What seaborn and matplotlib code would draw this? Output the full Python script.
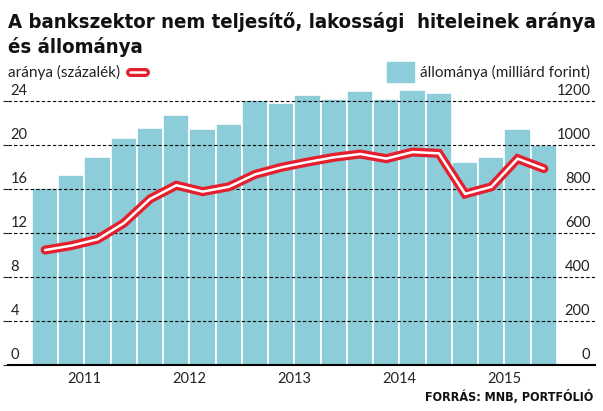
import numpy as np
import pandas as pd
import seaborn as sns
import matplotlib.pyplot as plt
import matplotlib.transforms as mtransforms
from matplotlib import font_manager

# quarterly data 2011 Q1 - 2015 Q4
quarters = [f"{y} Q{q}" for y in range(2011, 2016) for q in range(1, 5)]
allomany = [806, 864, 945, 1032, 1077, 1138, 1073, 1097, 1203, 1189,
            1225, 1210, 1247, 1210, 1251, 1238, 924, 947, 1074, 1000]
aranya = [10.45, 10.85, 11.43, 12.9, 15.1, 16.34, 15.76, 16.2, 17.33, 17.97,
          18.45, 18.88, 19.18, 18.76, 19.36, 19.24, 15.55, 16.2, 18.76, 17.85]
years = ["2011", "2012", "2013", "2014", "2015"]
left_ticks = [0, 4, 8, 12, 16, 20, 24]
right_ticks = [0, 200, 400, 600, 800, 1000, 1200]

BAR = "#8ccdd9"
RED = "#e5202e"

# look for a condensed bold face for the headline
cond = None
for f in font_manager.fontManager.ttflist:
    nm = (f.name + " " + str(f.stretch)).lower()
    if ("condensed" in nm or "narrow" in nm) and f.weight in ("bold", 700, "heavy", 800):
        cond = font_manager.FontProperties(fname=f.fname)
        break
if cond is None:
    cond = font_manager.FontProperties(family="Roboto", weight="bold")

names = {f.name for f in font_manager.fontManager.ttflist}
body = "Lato" if "Lato" in names else "DejaVu Sans"

sns.set_style("white")
plt.rcParams["font.family"] = [body, "DejaVu Sans"]

df = pd.DataFrame({"quarter": quarters, "allomany": allomany, "aranya": aranya})

fig = plt.figure(figsize=(6.03, 4.11), dpi=100)
ax = fig.add_axes([8 / 603, 46 / 411, 587 / 603, 286 / 411])

sns.barplot(data=df, x="quarter", y="allomany", color=BAR, width=1.0,
            edgecolor="white", linewidth=1.2, saturation=1, ax=ax)
ax.set_xlim(-1.414, 20.948)
ax.set_ylim(0, 1300)
ax.set_yticks(right_ticks)
ax.yaxis.grid(True, linestyle=(0, (3, 2)), color="black", linewidth=0.8)
ax.set_axisbelow(False)
ax.set_yticklabels([])
ax.set_xticks([])
ax.set_xlabel("")
ax.set_ylabel("")
ax.tick_params(left=False, right=False, bottom=False)
for s in ["top", "left", "right"]:
    ax.spines[s].set_visible(False)
ax.spines["bottom"].set_color("black")
ax.spines["bottom"].set_linewidth(1.5)
ax.spines["bottom"].set_zorder(5)

ax2 = ax.twinx()
ax2.set_ylim(0, 26)
x = np.arange(len(df))
sns.lineplot(x=x, y=df["aranya"], color=RED, linewidth=6.5, ax=ax2,
             solid_capstyle="round", solid_joinstyle="miter")
sns.lineplot(x=x, y=df["aranya"], color="white", linewidth=1.8, ax=ax2,
             solid_joinstyle="miter")
ax2.set_yticks([])
ax2.set_xlabel("")
ax2.set_ylabel("")
for s in ax2.spines.values():
    s.set_visible(False)

# axis labels sitting above the dashed lines
trl = mtransforms.blended_transform_factory(ax2.transAxes, ax2.transData)
for t in left_ticks:
    ax2.text(0.004, t + 0.25, str(t), transform=trl, ha="left", va="bottom",
             fontsize=10.5, color="#222222")
trr = mtransforms.blended_transform_factory(ax.transAxes, ax.transData)
for t in right_ticks:
    ax.text(0.992, t + 12, str(t), transform=trr, ha="right", va="bottom",
            fontsize=10.5, color="#222222")

trx = mtransforms.blended_transform_factory(ax.transData, ax.transAxes)
for i, y in enumerate(years):
    ax.text(i * 4 + 1.5, -0.025, y, transform=trx, ha="center", va="top",
            fontsize=10.5, color="#222222")

# headline, two lines on the reference baselines
t1 = fig.text(8 / 603, 1 - 28 / 411,
              "A bankszektor nem teljesítő, lakossági  hiteleinek aránya",
              ha="left", va="baseline", fontproperties=cond, fontsize=20,
              color="#111111")
r = fig.canvas.get_renderer()
w = t1.get_window_extent(r).width
size = 20 * 589 / w if w > 589 else 20
t1.set_fontsize(size)
fig.text(8 / 603, 1 - 53 / 411, "és állománya", ha="left", va="baseline",
         fontproperties=cond, fontsize=size, color="#111111")

fig.text(8 / 603, 1 - 72 / 411, "aránya (százalék)", ha="left", va="center",
         fontsize=11, color="#222222")
fig.add_artist(plt.Line2D([130 / 603, 145 / 603], [1 - 72 / 411] * 2, color=RED,
                          linewidth=6.5, solid_capstyle="round"))
fig.add_artist(plt.Line2D([130 / 603, 145 / 603], [1 - 72 / 411] * 2, color="white",
                          linewidth=1.8))
fig.patches.append(plt.Rectangle((387 / 603, 1 - 82 / 411), 27 / 603, 20 / 411,
                                 color=BAR, transform=fig.transFigure))
fig.text(590 / 603, 1 - 72 / 411, "állománya (milliárd forint)", ha="right", va="center",
         fontsize=11, color="#222222")
fig.text(593 / 603, 1 - 397 / 411, "FORRÁS: MNB, PORTFÓLIÓ", ha="right", va="center",
         fontproperties=cond, fontsize=9, color="#111111")

fig.savefig("out.png", dpi=100)
